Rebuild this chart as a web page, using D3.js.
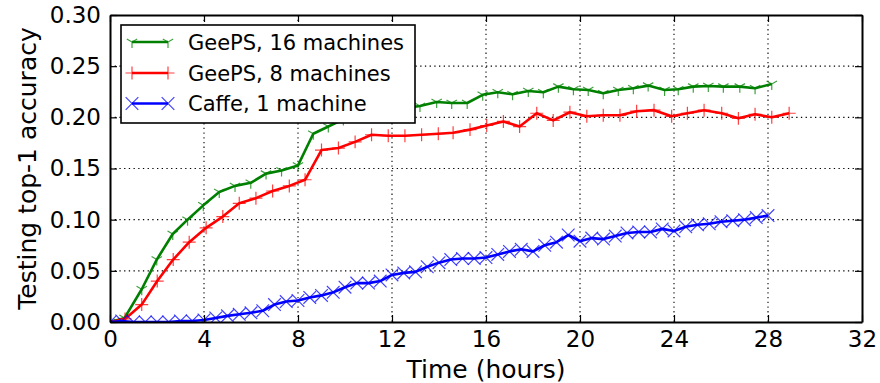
<!DOCTYPE html>
<html><head><meta charset="utf-8">
<script src="https://cdn.jsdelivr.net/npm/d3@7"></script>
<style>
body{margin:0;background:#fff}
svg{display:block}
text{font-family:"DejaVu Sans",sans-serif;fill:#000}
</style>
</head><body>
<svg id="chart" width="880" height="383"></svg>
<script>
// ---- data ----
const seriesNames = ["GeePS, 16 machines", "GeePS, 8 machines", "Caffe, 1 machine"];
const seriesColors = ["#008000", "#ff0000", "#0000ff"];

const g16Time = [0, 0.62, 1.35, 1.99, 2.67, 3.30, 3.97, 4.65, 5.32, 5.99, 6.64, 7.30, 8.00, 8.65, 9.29, 9.93,
  10.57, 11.22, 11.87, 12.52, 13.19, 13.90, 14.54, 15.20, 15.86, 16.50, 17.13, 17.80, 18.44, 19.08, 19.72,
  20.35, 20.99, 21.63, 22.27, 22.90, 23.60, 24.18, 24.82, 25.46, 26.10, 26.80, 27.45, 28.16];
const g16Acc = [0.000, 0.004, 0.032, 0.061, 0.086, 0.100, 0.114, 0.127, 0.133, 0.136, 0.145, 0.148, 0.153, 0.184, 0.191, 0.198,
  0.201, 0.204, 0.207, 0.209, 0.211, 0.215, 0.214, 0.214, 0.222, 0.2245, 0.2225, 0.2257, 0.2245, 0.230, 0.2274,
  0.2267, 0.2235, 0.2267, 0.2284, 0.231, 0.2267, 0.2274, 0.230, 0.2306, 0.230, 0.230, 0.2284, 0.2326];

const g8Time = [0, 0.64, 1.35, 2.01, 2.69, 3.37, 4.09, 4.80, 5.50, 6.21, 6.92, 7.63, 8.30, 9.00, 9.72, 10.43,
  11.13, 11.84, 12.55, 13.26, 13.97, 14.60, 15.32, 16.03, 16.74, 17.43, 18.16, 18.86, 19.57, 20.29, 20.99,
  21.70, 22.41, 23.15, 23.90, 24.57, 25.28, 26.03, 26.74, 27.45, 28.16, 28.90];
const g8Acc = [0.000, 0.003, 0.017, 0.040, 0.061, 0.078, 0.092, 0.103, 0.116, 0.121, 0.128, 0.133, 0.139, 0.168, 0.170, 0.176,
  0.183, 0.182, 0.182, 0.183, 0.184, 0.185, 0.188, 0.192, 0.196, 0.191, 0.204, 0.197, 0.205, 0.201, 0.202,
  0.202, 0.206, 0.207, 0.201, 0.204, 0.207, 0.204, 0.199, 0.203, 0.200, 0.204];

const caffeTime = [0, 0.5, 1, 1.5, 2, 2.5, 3, 3.5, 4, 4.5, 5, 5.5, 6, 6.5, 7, 7.5, 8, 8.5, 9, 9.5,
  10, 10.5, 11, 11.5, 12, 12.5, 13, 13.5, 14, 14.5, 15, 15.5, 16, 16.5, 17, 17.5, 18, 18.5, 19, 19.5,
  20, 20.5, 21, 21.5, 22, 22.5, 23, 23.5, 24, 24.5, 25, 25.5, 26, 26.5, 27, 27.5, 28];
const caffeAcc = [0.000, 0.001, 0.000, 0.000, 0.000, 0.000, 0.001, 0.001, 0.002, 0.004, 0.006, 0.0075, 0.009, 0.011, 0.017, 0.020, 0.021, 0.024, 0.026, 0.029,
  0.034, 0.038, 0.038, 0.040, 0.046, 0.048, 0.049, 0.054, 0.058, 0.061, 0.062, 0.062, 0.063, 0.066, 0.069, 0.071, 0.069, 0.075, 0.078, 0.085,
  0.079, 0.082, 0.081, 0.084, 0.087, 0.088, 0.088, 0.091, 0.089, 0.093, 0.095, 0.096, 0.098, 0.099, 0.100, 0.102, 0.104];

const xTicks = [0, 4, 8, 12, 16, 20, 24, 28, 32];
const yTicks = [0.00, 0.05, 0.10, 0.15, 0.20, 0.25, 0.30];
const xLabel = "Time (hours)";
const yLabel = "Testing top-1 accuracy";

// ---- marker shapes (d3 symbol types) ----
const triDown = {draw(ctx, size){ const r = Math.sqrt(size);
  ctx.moveTo(0,0); ctx.lineTo(0,r); ctx.moveTo(0,0); ctx.lineTo(0.866*r,-0.5*r); ctx.moveTo(0,0); ctx.lineTo(-0.866*r,-0.5*r);} };
const plusSym = {draw(ctx, size){ const r = Math.sqrt(size);
  ctx.moveTo(-r,0); ctx.lineTo(r,0); ctx.moveTo(0,-r); ctx.lineTo(0,r);} };
const xSym = {draw(ctx, size){ const r = Math.sqrt(size);
  ctx.moveTo(-r,-r); ctx.lineTo(r,r); ctx.moveTo(-r,r); ctx.lineTo(r,-r);} };
const markerTypes = [triDown, plusSym, xSym];
const markerSizes = [36, 42, 40];

const series = [
  g16Time.map((t,i)=>({t, v:g16Acc[i]})),
  g8Time.map((t,i)=>({t, v:g8Acc[i]})),
  caffeTime.map((t,i)=>({t, v:caffeAcc[i]}))
];

// ---- layout ----
const svg = d3.select("#chart");
const L = 110, R = 862, T = 15, B = 322;
const x = d3.scaleLinear().domain([0, 32]).range([L, R]);
const y = d3.scaleLinear().domain([0, 0.30]).range([B, T]);

svg.append("defs").append("clipPath").attr("id","clip")
  .append("rect").attr("x",L).attr("y",T).attr("width",R-L).attr("height",B-T);

// grid
const grid = svg.append("g").attr("stroke","#000").attr("stroke-width",1.1).attr("stroke-dasharray","1.3,3.4");
grid.selectAll(".gx").data(xTicks.slice(1,-1)).join("line")
  .attr("x1",d=>x(d)).attr("x2",d=>x(d)).attr("y1",T).attr("y2",B);
grid.selectAll(".gy").data(yTicks.slice(1,-1)).join("line")
  .attr("y1",d=>y(d)).attr("y2",d=>y(d)).attr("x1",L).attr("x2",R);

// series
const plot = svg.append("g").attr("clip-path","url(#clip)");
const line = d3.line().x(d=>x(d.t)).y(d=>y(d.v));
series.forEach((s, k) => {
  const g = plot.append("g");
  g.append("path").datum(s).attr("d", line).attr("fill","none")
    .attr("stroke", seriesColors[k]).attr("stroke-width", 2.6).attr("stroke-linejoin","round");
  g.selectAll("path.m").data(s).join("path").attr("class","m")
    .attr("transform", d=>`translate(${x(d.t)},${y(d.v)})`)
    .attr("d", d3.symbol(markerTypes[k], markerSizes[k]))
    .attr("fill","none").attr("stroke", seriesColors[k]).attr("stroke-width",1.2).attr("stroke-opacity",0.75);
});

// axes
const fs = "23px";
const ax = svg.append("g").attr("transform",`translate(0,${B})`)
  .call(d3.axisBottom(x).tickValues(xTicks).tickSizeInner(-7).tickSizeOuter(0).tickPadding(9).tickFormat(d3.format("d")));
const ay = svg.append("g").attr("transform",`translate(${L},0)`)
  .call(d3.axisLeft(y).tickValues(yTicks).tickSizeInner(-7).tickSizeOuter(0).tickPadding(9).tickFormat(d3.format(".2f")));
const at = svg.append("g").attr("transform",`translate(0,${T})`)
  .call(d3.axisTop(x).tickValues(xTicks).tickSizeInner(-7).tickSizeOuter(0).tickFormat(""));
const ar = svg.append("g").attr("transform",`translate(${R},0)`)
  .call(d3.axisRight(y).tickValues(yTicks).tickSizeInner(-7).tickSizeOuter(0).tickFormat(""));
[ax, ay, at, ar].forEach(a => {
  a.selectAll(".domain").attr("stroke","#000").attr("stroke-width",2);
  a.selectAll(".tick line").attr("stroke","#000").attr("stroke-width",1.2);
  a.selectAll("text").attr("font-size", fs).attr("font-family","DejaVu Sans").attr("fill","#000");
});

// axis labels
svg.append("text").attr("x", (L+R)/2).attr("y", 378).attr("text-anchor","middle")
  .attr("font-size","25px").text(xLabel);
svg.append("text").attr("transform",`translate(36,${(T+B)/2}) rotate(-90)`).attr("text-anchor","middle")
  .attr("font-size","25px").text(yLabel);

// legend
const lg = svg.append("g");
lg.append("rect").attr("x",121).attr("y",25).attr("width",294).attr("height",98)
  .attr("fill","#fff").attr("stroke","#000").attr("stroke-width",1.6);
const rowY = [42, 73, 103.5];
seriesNames.forEach((name, k) => {
  const r = lg.append("g").attr("transform",`translate(0,${rowY[k]})`);
  r.append("line").attr("x1",132).attr("x2",168).attr("y1",0).attr("y2",0)
    .attr("stroke",seriesColors[k]).attr("stroke-width",2.6);
  r.selectAll("path").data([132,168]).join("path")
    .attr("transform", d=>`translate(${d},0)`)
    .attr("d", d3.symbol(markerTypes[k], markerSizes[k]))
    .attr("fill","none").attr("stroke",seriesColors[k]).attr("stroke-width",1.2).attr("stroke-opacity",0.75);
  r.append("text").attr("x",188).attr("y",0).attr("dy","0.36em").attr("font-size","21px").text(name);
});
</script>
</body></html>
